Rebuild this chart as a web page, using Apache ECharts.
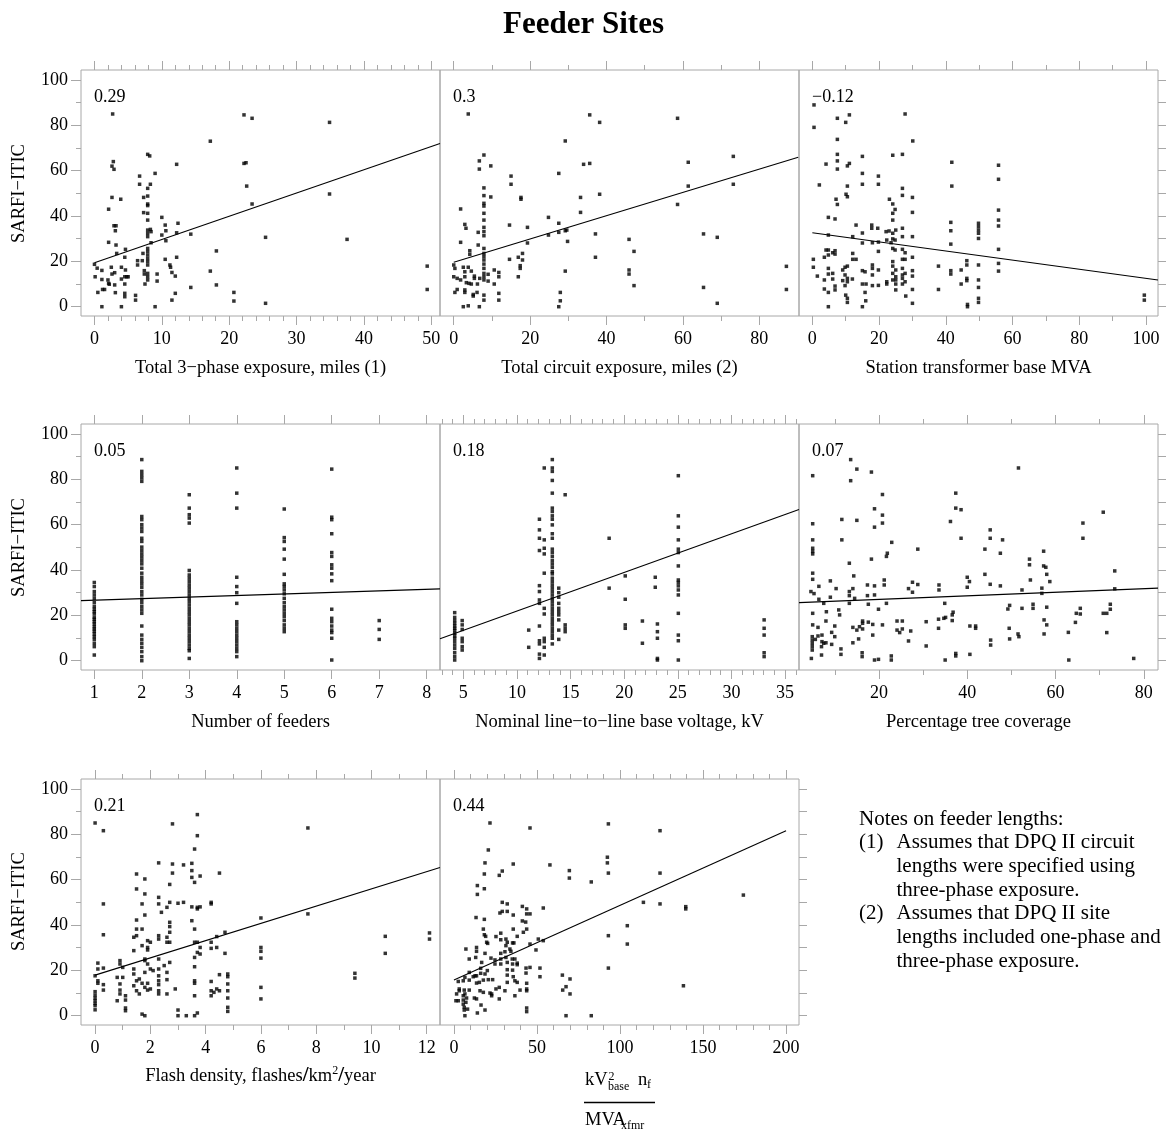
<!DOCTYPE html>
<html><head><meta charset="utf-8">
<script src="https://cdn.jsdelivr.net/npm/echarts@6/dist/echarts.min.js"></script>
<style>html,body{margin:0;padding:0;background:#fff}#c{width:1167px;height:1131px}</style>
</head><body><div id="c"></div>
<script>
const FONT = '"Liberation Serif","Times New Roman",serif';
const GRAY = '#a8a8a8';
const chartTitle = 'Feeder Sites';
const yName = 'SARFI−ITIC';
const corrLabels = ['0.29', '0.3', '−0.12', '0.05', '0.18', '0.07', '0.21', '0.44'];
const xNames = ['Total 3−phase exposure, miles (1)', 'Total circuit exposure, miles (2)', 'Station transformer base MVA',
  'Number of feeders', 'Nominal line−to−line base voltage, kV', 'Percentage tree coverage'];
const yTicks = [0, 20, 40, 60, 80, 100];
const yMinor = [10, 30, 50, 70, 90];
const yRight = [0, 10, 20, 30, 40, 50, 60, 70, 80, 90, 100];
const xMajor = [[0,10,20,30,40,50],[0,20,40,60,80],[0,20,40,60,80,100],[1,2,3,4,5,6,7,8],[5,10,15,20,25,30,35],[20,40,60,80],[0,2,4,6,8,10,12],[0,50,100,150,200]];
const xMinor = [[2,4,6,8,12,14,16,18,22,24,26,28,32,34,36,38,42,44,46,48],[10,30,50,70],[10,30,50,70,90],[],
  [3,4,6,7,8,9,11,12,13,14,16,17,18,19,21,22,23,24,26,27,28,29,31,32,33,34,36],[10,30,50,70],[1,3,5,7,9,11],
  [10,20,30,40,60,70,80,90,110,120,130,140,160,170,180,190]];
const xRanges = [[-2,51.3],[-3.6,90.4],[-4,103.6],[0.72,8.28],[2.83,36.3],[1.9,83.2],[-0.51,12.48],[-8.4,207.8]];
const YMIN = -4.1, YMAX = 104.4;

// regression lines (endpoints)
const fits = [[[0,19.4],[51.3,72]],[[0,19.6],[90.2,65.9]],[[0,32.6],[103.6,11.8]],[[0.72,26.5],[8.28,31.7]],
  [[2.83,9.7],[36.3,66.7]],[[1.9,25.6],[83.2,32.0]],[[0,17.9],[12.48,65.4]],[[0,15.8],[200,81.6]]];

const p1 = [[0,18.7],[0.4,17],[0.1,13.2],[0.5,6.3],[1.1,0],[1.1,16],[1.1,12],[1.2,7.6],[1.5,7.6],[2,11.8],[2.1,10.3],[2.1,43],[2.1,28.4],[2.2,9.9],[2.5,17.4],[2.6,14.4],[2.7,85],[2.6,48.2],[2.6,62],[2.9,60.6],[2.8,64],[2.9,35.7],[3,9.6],[3,15],[3.1,6.2],[3.1,33.5],[3.2,27.2],[3.3,23.5],[3.2,35.7],[3.9,47.4],[4,0],[4,17.4],[4,12.2],[4.5,21.8],[4.6,25.3],[4.6,16.2],[4.5,13.2],[4.5,5.9],[4.5,4.4],[4.8,13.2],[5,13.2],[4.5,10],[6.1,5],[6.1,2.9],[6.4,20.3],[6.4,18.4],[6.7,57.6],[6.7,54],[7.1,20.3],[7.2,23.5],[7.3,41.5],[7.3,48.2],[7.4,15.9],[7.4,14.4],[7.5,10],[7.9,67.2],[8.2,66.5],[7.9,52.2],[7.9,48.8],[7.9,45.3],[7.9,44.6],[7.9,41.2],[7.9,38.2],[7.9,33.8],[7.9,32.4],[7.9,30.9],[7.9,25.7],[7.9,24.3],[7.9,22.8],[7.9,21.3],[7.9,19.9],[7.9,18.4],[7.9,14.7],[7.9,13.2],[7.9,11.8],[8.3,54],[8.3,34.1],[8.4,33.1],[8.4,28.2],[9,58.8],[9,0],[9.3,14.4],[9.3,11.3],[10,39.4],[10,31.6],[10.5,36],[10.5,20.9],[10.6,33.5],[10.6,29.1],[11.2,18.4],[11.3,17.4],[11.5,15.1],[11.5,2.9],[12,13.5],[12,5.9],[12.2,62.8],[12.2,32.6],[12.2,21.8],[12.4,36.8],[14.3,32],[14.3,8.5],[17.2,73],[17.2,15.7],[18.1,24.6],[18.1,9.6],[20.7,6.3],[20.7,2.5],[22.2,84.6],[22.2,63.2],[22.5,63.5],[22.6,53.2],[23.4,83.1],[23.4,45.3],[25.4,30.6],[25.4,1.5],[34.9,81.3],[34.9,49.7],[37.5,29.7],[49.4,17.9],[49.4,7.6]];

const p2 = [[3.8,85],[35.6,84.6],[38.2,81.3],[58.6,83.1],[29.2,73.1],[73.2,66.3],[7.9,66.9],[6.7,64.3],[6.7,60.7],[9.7,62.1],[34,62.8],[35.6,63.2],[61.4,63.7],[27.5,58.8],[15,57.6],[15,54],[61.4,53.2],[73.2,54],[7.9,52.4],[38.2,49.6],[7.9,49],[9.7,48.4],[33.2,48.2],[7.9,45.6],[7.9,44.4],[58.6,45.1],[1.8,43.1],[17.6,48.2],[17.6,47.4],[7.9,41.2],[33.2,41.6],[7.9,38.2],[24.8,39.4],[2.9,36.3],[3.2,34.6],[14.6,36],[19.3,35],[27.5,36.8],[6.4,32.8],[7.9,35],[7.9,33.1],[7.9,31.3],[24.8,31.6],[27.5,32.8],[29.2,33.5],[29.6,33.8],[37.1,32.1],[65.4,32.1],[69,30.6],[1.8,28.4],[6.4,27.2],[7.9,25.7],[29.8,28.8],[19.3,28.1],[45.9,29.7],[4.2,24.7],[4.2,23.1],[7.9,23.5],[7.9,22.1],[47.2,24.4],[37.1,21.8],[14.6,20.9],[16.9,21.8],[18,23.5],[18,20.6],[7.9,20.6],[7.9,18.8],[7.9,16.9],[0,18.4],[0.3,16.9],[17.4,18.1],[17.4,16.9],[2.5,17.4],[3.8,17.4],[2.9,15.4],[4.6,15.7],[10.6,16.2],[11.8,15.1],[29.2,15.7],[45.9,16.2],[45.9,14.4],[87.1,17.8],[0,13.2],[0.9,12.5],[1.8,11.8],[2.9,13.2],[3.3,10.6],[4,10.3],[4.6,10],[5.4,13.5],[5.4,12.5],[6.2,10],[6.8,12.5],[7.9,14.7],[7.9,13.2],[7.9,11.8],[9,14.3],[9,11.3],[10.6,10],[11.8,13.2],[16.9,13.2],[47.2,9.3],[65.4,8.5],[87.1,7.6],[0.3,6.3],[0.9,7.6],[2.9,7.4],[2.9,6.3],[5.1,5.4],[5.1,4.7],[6.1,6.3],[7.9,5.1],[7.9,2.9],[11.8,5.9],[11.8,2.9],[27.9,6.3],[27.9,2.6],[27.5,0],[2.5,0],[3.8,0.4],[6.7,0],[69,1.5]];

const p3 = [[0.5,89],[0.5,79.1],[7.5,83.1],[10,81.3],[11.1,84.6],[27.8,85],[7.5,73.8],[30.1,73.1],[7.5,67.2],[7.5,64.3],[7.5,60.7],[4.1,62.9],[10.5,62.1],[11.1,63.2],[15,66.3],[24.1,66.8],[27,67.2],[41.8,63.7],[55.8,62.4],[2.1,53.7],[15,58.8],[15,54],[19.8,57.6],[19.8,54],[10.5,53.2],[41.8,53.2],[55.8,56.2],[10.1,49.6],[10.5,48.5],[7.1,47.4],[7.5,45.1],[23.1,47.4],[24.1,45.3],[24.8,42.9],[27,52.2],[27,49.1],[30,48.2],[30,41.6],[55.8,42.6],[4.8,39.4],[6.8,38.7],[24.1,41.2],[24.1,38.2],[55.8,38.2],[55.8,35.6],[41.5,37.2],[41.5,33.5],[41.5,27.6],[49.8,36.8],[49.8,35.3],[49.8,33.8],[49.8,32.4],[49.8,30.1],[13.1,36],[15,32.5],[15,28.1],[17.8,36],[17.8,34.6],[18,28.2],[19.6,34.6],[19.8,28.5],[19.8,24.4],[22.1,33.1],[23,33.4],[24.1,32.4],[22.3,29.4],[23.6,28.2],[24.1,29.9],[24.8,29.4],[25,33.8],[27,34.6],[27,30.9],[30,30.9],[4.8,31.6],[12.1,30.9],[4.8,25],[4.8,22.8],[4.1,25],[6.1,23.8],[6.8,24.7],[6.8,23.2],[3.6,21.8],[0.3,20.9],[0.3,17.4],[12.1,23.5],[12.1,20.9],[13.1,20.9],[24.1,25.7],[24.8,25],[27,25.3],[27.8,23.8],[27.8,20.9],[27,20.9],[30,21.8],[55.8,25.3],[55.8,19.1],[55.8,15.7],[46.3,20.3],[46.3,18.4],[49.8,18.4],[37.8,17.9],[41.5,15.9],[41.5,14.4],[44.6,16.2],[4.8,16.9],[6.1,14.7],[9.1,16.2],[9.8,17.4],[10.5,17.9],[9.1,11.5],[9.8,14],[10.5,12.5],[10.5,11],[12,12.2],[15,15.9],[15.8,15.4],[18,18.4],[18,16.9],[18,14],[19.8,16.2],[24.1,19.9],[24.1,17.9],[24.1,14.7],[24.1,11.8],[25,16.2],[25,13.2],[25,11.8],[27,16.9],[27,14],[27,12.5],[27.8,14.7],[30,15.9],[30,13.5],[1.5,13.5],[3.6,11.8],[4.8,14.4],[6.1,12.2],[6.8,9.1],[6.8,7.4],[3.6,7.8],[4.8,6.3],[9.8,9.3],[15,10],[16.1,10],[15.8,6.3],[18,9.3],[19.8,9.4],[22.3,11],[22.3,10],[25,10],[25,7.4],[27,10],[27.8,11],[30,7.6],[37.8,7.6],[44.6,10],[46.3,12.5],[46.3,11.5],[49.8,11.8],[49.8,8.5],[10,5.1],[10.5,3.7],[10.5,1.9],[16,2.6],[28,4.7],[30,1.5],[49.8,3.7],[49.8,1.9],[46.5,1],[46.5,0],[4.8,0],[15,0],[99.5,5.1],[99.5,2.9]];

// number of feeders: [x, [y values]]
const p4Groups = [[1,[34.5,32.7,30.5,29,27.5,25.6,23.9,22.7,21.6,20.6,19.1,18.3,17.2,16.2,15,14,13,11.8,10.6,9.4,7.7,6.2,2.5]],
  [2,[88.7,83.5,82,80.6,79.1,63.6,62.2,60,58.5,57,54,52.6,50.1,48.6,47.1,45.7,44.2,42.7,40.8,38.6,36.8,35.3,33.9,32.4,30.5,29,27.1,25.6,23.9,22.4,20.9,15.3,11.3,9.4,7.7,5.9,4,1.8,0]],
  [3,[73.2,67.3,64.4,62.9,60.7,39.8,37.8,36.4,34.9,33.4,32,30.5,29,27.5,26.1,24.6,23.1,21.6,20.2,18.7,17.2,15.8,14.3,12.8,11.3,9.9,8.4,6.9,5.4,4.4,1]],
  [4,[85,73.9,67.3,36.8,32.7,30,25.3,17.2,15.8,14.3,12.8,11.3,9.9,8.4,6.9,5.4,4,1.8]],
  [5,[66.9,54.3,52.6,49.2,44.8,38.1,33.9,32.7,31.2,29.5,27.5,25.6,23.9,22.4,20.9,19.4,17.7,15.8,14.3,12.8]],
  [6,[84.5,63.3,62.2,56,47.7,46,42.3,40.8,38.3,35.3,22.7,18.7,17.2,15.3,13.5,12.4,9.9,0.3]],
  [7,[17.7,13.8,9.4]]];

// base voltage kV: [x, [y values]]
const p5Groups = [[4.2,[21.2,19.1,17.7,16.5,15.3,14.3,13.3,12.1,10.9,9.9,8.4,6.9,5.4,3.5,1.8,0.3]],
  [4.9,[17.7,15.8,13.8,9.9,8.4,6.2,4.7]],
  [11.1,[13.5,5.9]],
  [12.1,[62.4,57.7,54,48.6,33.1,30.5,26.8,25.3,15.3,8.8,7.4,2.9,1]],
  [12.55,[85,53.3,49.6,47.1,38.6,23.1,20.6,9.9,8.4,5.9,2.5]],
  [13.3,[88.7,85,83.5,79.5,73.9,67.3,65.8,63.9,62.4,59.9,56,54,49.2,47.7,46,44.2,42.7,41.2,39.3,38.3,36.4,34.9,33.4,32,30.5,29,27.5,26.1,24.6,23.1,21.6,20.2,18.7,17.2,15.8,14.3,12.8,11.3,9.9,7.4]],
  [13.9,[32,30,28,25.3,23.1,21.6,20.2,18,13.5,9.4]],
  [14.5,[73.2,15.8,14.3,12.8]],
  [18.6,[54,32]],
  [20.1,[37.4,27.1,15.8,14.3]],
  [21.7,[17.5,7.7]],
  [22.9,[36.8,32.4]],
  [23.1,[16.2,12.8,9.9,1,0.3]],
  [25.05,[81.6,63.9,58.9,53.3,49.2,47.7,41.8,35.6,34.5,33,31.2,29,20.9,11.3,8.8,0.3]],
  [33.05,[18,14.3,11.3,3.5,1.8]]];

const p6 = [[5,81.6],[13.6,88.7],[13.6,79.4],[15,84.5],[18.3,83.2],[51.6,85],[20.8,73.3],[37.4,73.9],[37.4,67.3],[38.6,66.6],[19,67],[20.8,64.2],[20.8,60.7],[19,58.9],[11.6,62.3],[15,61.9],[36.2,61.4],[70.8,65.5],[66.2,60.7],[66.2,54],[5,60.4],[5,53.3],[5,49.6],[5,48.2],[5,47.1],[11.6,53.3],[18.3,44.8],[21.9,47.4],[21.7,46],[22.9,52.2],[28.8,49.2],[38.6,54],[45.2,57.7],[45.2,54],[48,53.3],[44,49.2],[47.5,47.4],[57.3,48.3],[54.1,44.8],[54.1,42.3],[57.3,41.8],[57.8,41.2],[13.3,43],[5,38.6],[5,35.9],[14.3,37.4],[44,38.1],[40,36.8],[40.5,34.9],[58,38.1],[58.7,34.9],[54.3,35.6],[73.4,39.6],[45.2,33.7],[47.5,33],[40,32.4],[33.6,33.4],[33.6,31.2],[27.6,34.6],[28.8,33.6],[26.7,31.8],[27.6,30.2],[21.2,35.6],[21.2,33.4],[17.4,33.4],[19,33],[9,35.2],[10.3,31.8],[6.4,32.8],[4.6,30.5],[5.3,29.6],[13.3,30.5],[13.3,28.7],[14.1,31.8],[14.5,27.5],[17.4,28.7],[17.6,24.9],[19,29],[21.7,25.3],[13.3,25.3],[6.4,27.1],[7.5,25.3],[9,28],[52.4,31.2],[56.9,32],[56.9,29.7],[73.4,31.7],[34.9,25.3],[49.6,24.4],[49.2,22.8],[52.4,23.1],[54.9,24.9],[54.9,23.1],[58,23.6],[72.4,24.9],[72.4,22.7],[70.8,20.9],[71.6,20.9],[65.6,23.1],[64.7,20.9],[65.6,20.6],[5,20.9],[8.1,21.6],[10.9,22.4],[11.1,20.2],[19.9,22.7],[36.8,21.4],[36.6,20.2],[35.1,19.1],[34.7,18.7],[33.5,18.3],[36.6,17.7],[5,15.8],[6.2,14.7],[8,17.5],[10,15.3],[14.1,14.7],[15,13.5],[15.6,15],[16.3,17.5],[16.3,16.5],[16.3,14],[17.6,17],[18.6,16],[20.8,15.8],[24.1,17.5],[25.3,17.5],[24.1,13.5],[24.7,12.4],[25.3,14],[27.2,13.1],[30.7,17.2],[33.5,14.3],[40.6,15.3],[41.9,15.3],[41.9,14.3],[49.5,14.3],[57.4,18],[58,15.8],[64.5,16.9],[57.4,11.8],[62.9,12.5],[71.6,12.4],[51.5,11.8],[51.7,10.6],[4.9,10.6],[4.9,9.1],[4.9,7.7],[4.9,6.2],[4.9,4.7],[5.6,9.4],[6.2,10.9],[7.1,11.3],[7.1,8.4],[7.5,7.7],[8,7.9],[7,6.2],[7,2.5],[9.3,12.5],[10,10.6],[9.3,7.2],[11.4,5.2],[11.4,2.8],[14.1,7.9],[15.4,9.6],[16.2,3.5],[16.2,1.8],[18.6,11.3],[19,0.3],[19.9,0.6],[22.8,2.1],[22.8,0.3],[26.7,8.7],[30.7,6.5],[35,0.3],[37.4,3.2],[37.4,2.1],[40.6,2.8],[45.3,9.1],[45.3,6.9],[49.6,9.6],[63,0.3],[77.7,1],[4.7,1]];

const p7 = [[0,85],[0.3,81.6],[0.3,49.3],[0.3,35.7],[0.1,23.2],[0.1,20.6],[0.3,21],[0,17.6],[0.1,15.4],[0.1,14.3],[0.3,13.7],[0.3,11.3],[0,10.6],[0,9.1],[0,7.8],[0,6.6],[0,5.4],[0,4.4],[0,2.6],[0.8,16.9],[0.8,6.6],[0.9,24.3],[0.9,22.8],[0.9,14],[0.9,11.3],[0.9,9.6],[1,21.3],[1,16.9],[1.1,8.8],[1.1,6.9],[1.1,3.4],[1.1,2.2],[1.4,28.7],[1.4,34.6],[1.4,20.6],[1.4,18.4],[1.4,13.2],[1.5,62.5],[1.5,55.9],[1.5,42.2],[1.5,38.2],[1.5,35.3],[1.5,15.4],[1.5,11],[1.6,16.2],[1.6,9.6],[1.7,38.2],[1.7,30.9],[1.7,49.3],[1.7,14.3],[1.7,0.7],[1.8,0],[1.8,60.3],[1.8,44.4],[1.8,53.7],[1.8,25],[1.8,24.3],[1.8,19.1],[1.8,12.5],[1.9,22.8],[1.9,33.1],[1.9,30.1],[1.9,29],[1.9,11.3],[1.9,14.3],[2,32.4],[2,20.6],[2,11.8],[2.1,19.9],[2.3,67.4],[2.3,52.2],[2.3,49.3],[2.4,45.6],[2.3,35.3],[2.3,33.8],[2.3,25],[2.3,20.6],[2.3,17.6],[2.3,15.4],[2.3,13.7],[2.3,11],[2.3,9.6],[2.5,22.1],[2.6,47.8],[2.6,34.6],[2.6,32.4],[2.6,15.9],[2.6,19.1],[2.6,9.6],[2.7,57.9],[2.7,50],[2.7,41.2],[2.7,39.3],[2.7,36.8],[2.7,32.4],[2.7,23.5],[2.8,84.6],[2.8,66.9],[2.8,62.9],[2.9,11.8],[3,49.6],[3,2.5],[3,0],[3.2,66.5],[3.2,50],[3.3,0],[3.5,41.9],[3.5,48],[3.5,67.2],[3.5,64],[3.5,61],[3.6,73.5],[3.6,58.8],[3.6,38.2],[3.6,32.4],[3.6,25.7],[3.6,21.6],[3.6,15.4],[3.6,14.3],[3.6,8.8],[3.6,0],[3.7,88.7],[3.7,79.4],[3.7,47.1],[3.7,47.8],[3.7,32.4],[3.8,30.1],[3.7,27.9],[3.8,27.2],[3.7,1.2],[3.8,61.6],[3.8,48],[4.2,50],[4.2,49.3],[4.2,32.4],[4.2,29.7],[4.2,15.1],[4.2,11],[4.2,8.8],[4.3,10.3],[4.4,11.8],[4.5,11],[4.4,34.9],[4.4,30.1],[4.5,62.9],[4.5,18.1],[4.7,36.8],[4.7,27.5],[4.8,18.4],[4.8,17.2],[4.8,14],[4.8,11],[4.8,7.8],[4.8,3.7],[4.8,1.9],[6,43.1],[6,30.1],[6,28.4],[6,25.4],[6,12.5],[6,7.4],[7.7,82.8],[7.7,44.9],[9.4,18.7],[9.4,16.6],[10.5,35],[10.5,27.5],[12.1,36.5],[12.1,33.8]];

const p8 = [[21.7,85],[45.8,82.8],[93,84.6],[124.1,81.6],[20.7,73.1],[92.4,69.9],[18.7,67.4],[35.7,66.9],[57.8,66.5],[69.5,64],[69.5,60.7],[82.7,59],[92.4,67.4],[93,62.9],[124.1,62.9],[18.3,62.5],[27.3,61.9],[29.1,63.8],[14.1,57.4],[14.1,53.5],[18.3,56],[29.1,50],[32.1,49.3],[27.7,45.3],[29.1,46],[32.1,46],[114.1,50],[139.6,48.1],[139.6,47.1],[174.3,53.2],[124.1,49.3],[35.7,44.4],[41.2,48.2],[43.8,47.1],[43.8,44.9],[45.8,44.9],[53.8,47.5],[13.3,43.3],[18.3,42.5],[41.2,41.8],[43.2,41.3],[35.7,38.2],[43.8,38.2],[17.7,38.2],[18.3,35.7],[19.1,35],[41.8,36.8],[38.1,35],[25.3,34.9],[28.2,36.4],[28.2,33.5],[31.3,33.8],[32.1,32.4],[31.3,30.9],[30.7,28.2],[35.3,32.1],[36.1,32.1],[33.7,29.4],[45.8,31.6],[50.8,33.8],[53.8,33.1],[49.4,29],[19.7,32.4],[20.3,31.9],[7.2,29.4],[13.6,30.1],[13.6,28.4],[18.7,27.5],[9.2,25],[13.1,25.7],[22.3,25.4],[24.7,24.6],[24.7,22.8],[28.2,27.5],[28.2,25],[28.2,22.8],[31.3,25.7],[32.1,23.5],[34.3,28.4],[35.1,25],[36.7,25],[35.3,22.8],[38.1,23.2],[38.1,22.5],[16.7,23.5],[16.1,20.9],[20.1,19.9],[18.7,18.4],[16.1,18.7],[9.2,19.1],[11.6,17.2],[12.7,17.6],[13.6,17.6],[32.1,20.3],[32.1,17.9],[35.3,20.1],[43.4,21],[45.8,21.3],[43.4,18.8],[51.8,21],[51.8,17.2],[93,21],[35.7,17.2],[20.7,15.9],[23.3,15.9],[17.7,15.7],[13.6,14.4],[15.3,14.7],[9.2,15.7],[6.6,16.9],[2.6,15.1],[5.6,15.4],[36.7,15.4],[38.1,14.7],[32.1,14.7],[43.8,14.3],[43.8,11.8],[43.8,11],[39.8,11.3],[27.3,12.5],[25.3,11.8],[30.7,11],[15.7,11],[17.7,10.3],[21.7,10],[22.7,9.6],[9.2,11.3],[6.2,11.3],[3.2,11.8],[3.2,11],[1.6,9.6],[1.2,6.6],[2.6,6.6],[5.6,8.8],[6.6,9.6],[5.6,6.9],[7.6,7.8],[7.2,5.9],[5.6,5.1],[6.2,3.7],[6.2,2.5],[6.6,0],[8.2,2.9],[12.3,7.8],[13.6,7.4],[16.3,4.7],[14.1,1.2],[18.7,2.5],[22.7,8.8],[27.3,7.4],[36.7,8.8],[43.8,3.4],[43.8,1.8],[65.3,17.9],[69.9,16.2],[65.5,11.3],[67.5,12.8],[69.9,9.6],[67.5,0],[82.7,0],[93,35.3],[104.4,39.7],[104.4,31.6],[138.2,13.2]];

const noteLines = [['', 'Notes on feeder lengths:'], ['(1)', 'Assumes that DPQ II circuit'], ['', 'lengths were specified using'],
  ['', 'three-phase exposure.'], ['(2)', 'Assumes that DPQ II site'], ['', 'lengths included one-phase and'], ['', 'three-phase exposure.']];

function flatten(groups) { const out = []; groups.forEach(g => g[1].forEach(y => out.push([g[0], y]))); return out; }
const panelData = [p1, p2, p3, flatten(p4Groups), flatten(p5Groups), p6, p7, p8];

const colLeft = [81, 440, 799], rowTop = [70, 424, 779], W = 359, H = 246;
const grids = [], xAxes = [], yAxes = [], series = [], graphics = [];
const tickLS = { color: GRAY, width: 1 };
const labelStyle = { fontFamily: FONT, fontSize: 18, color: '#000' };
const noLine = { show: false, onZero: false };

for (let i = 0; i < 8; i++) {
  const r = Math.floor(i / 3), c = i % 3;
  const L = colLeft[c], T = rowTop[r];
  grids.push({ left: L, top: T, width: W, height: H, show: true, borderColor: GRAY, borderWidth: 1, backgroundColor: 'rgba(0,0,0,0)' });
  const [mn, mx] = xRanges[i];
  const xb = { type: 'value', gridIndex: i, min: mn, max: mx, splitLine: { show: false }, axisLine: noLine };
  const hasMinor = xMinor[i].length > 0;
  xAxes.push({ ...xb, position: 'bottom', axisTick: { show: true, inside: false, length: 9, customValues: xMajor[i], lineStyle: tickLS },
    axisLabel: { show: true, customValues: xMajor[i], margin: 14, ...labelStyle } });
  xAxes.push({ ...xb, position: 'bottom', axisTick: { show: hasMinor, inside: false, length: 5, customValues: hasMinor ? xMinor[i] : [0], lineStyle: tickLS }, axisLabel: { show: false } });
  xAxes.push({ ...xb, position: 'top', axisTick: { show: true, inside: false, length: 9, customValues: xMajor[i], lineStyle: tickLS }, axisLabel: { show: false } });
  xAxes.push({ ...xb, position: 'top', axisTick: { show: hasMinor, inside: false, length: 5, customValues: hasMinor ? xMinor[i] : [0], lineStyle: tickLS }, axisLabel: { show: false } });
  const yb = { type: 'value', gridIndex: i, min: YMIN, max: YMAX, splitLine: { show: false }, axisLine: noLine };
  const left = c === 0, right = (c === 2 || i === 7);
  yAxes.push({ ...yb, position: 'left', show: left, axisTick: { show: left, inside: false, length: 10, customValues: yTicks, lineStyle: tickLS },
    axisLabel: { show: left, customValues: yTicks, margin: 13, ...labelStyle } });
  yAxes.push({ ...yb, position: 'left', show: left, axisTick: { show: left, inside: false, length: 5, customValues: yMinor, lineStyle: tickLS }, axisLabel: { show: false } });
  yAxes.push({ ...yb, position: 'right', show: right, axisTick: { show: right, inside: false, length: 8, customValues: yRight, lineStyle: tickLS }, axisLabel: { show: false } });

  series.push({ type: 'scatter', xAxisIndex: 4 * i, yAxisIndex: 3 * i, data: panelData[i], symbol: 'rect', symbolSize: 3.5,
    itemStyle: { color: '#000' }, silent: true, z: 3 });
  series.push({ type: 'line', xAxisIndex: 4 * i, yAxisIndex: 3 * i, data: fits[i], symbol: 'none', lineStyle: { color: '#000', width: 1.1 },
    silent: true, z: 4 });

  graphics.push({ type: 'text', x: L + 13, y: T + 27.5, silent: true,
    style: { text: corrLabels[i], fontFamily: FONT, fontSize: 18, fill: '#000', align: 'left', verticalAlign: 'middle', textAlign: 'left', textVerticalAlign: 'middle' } });
  const cx = L + W / 2, ny = T + H + 52.5;
  if (i < 6) {
    graphics.push({ type: 'text', x: cx, y: ny, silent: true,
      style: { text: xNames[i], fontFamily: FONT, fontSize: 18.5, fill: '#000', align: 'center', verticalAlign: 'middle', textAlign: 'center', textVerticalAlign: 'middle' } });
  }
}

[193.5, 547.5, 901.7].forEach(cy => graphics.push({ type: 'text', x: 19, y: cy, rotation: Math.PI / 2, silent: true,
  style: { text: yName, fontFamily: FONT, fontSize: 18.5, fill: '#000', align: 'center', verticalAlign: 'middle', textAlign: 'center', textVerticalAlign: 'middle' } }));

graphics.push({ type: 'text', x: 260.5, y: 1076, silent: true,
  style: { text: 'Flash density, flashes{sl|/}km{sup|2}{sl|/}year', fontFamily: FONT, fontSize: 18.5, lineHeight: 22, fill: '#000',
    align: 'center', verticalAlign: 'middle', textAlign: 'center', textVerticalAlign: 'middle',
    rich: { sl: { fontFamily: FONT, fontSize: 21, fontWeight: 'bold', lineHeight: 22, fill: '#000' },
            sup: { fontFamily: FONT, fontSize: 12, lineHeight: 12, verticalAlign: 'top', fill: '#000' } } } });

const fracText = (t, x, y, fs) => ({ type: 'text', x: x, y: y, silent: true,
  style: { text: t, fontFamily: FONT, fontSize: fs, fill: '#000', align: 'left', verticalAlign: 'middle', textAlign: 'left', textVerticalAlign: 'middle' } });
graphics.push(fracText('kV', 585, 1080, 18.5));
graphics.push(fracText('2', 608.5, 1077, 12));
graphics.push(fracText('base', 608, 1086.5, 12));
graphics.push(fracText('n', 638, 1080, 18.5));
graphics.push(fracText('f', 647, 1084.5, 12));
graphics.push({ type: 'line', silent: true, shape: { x1: 584, y1: 1102.5, x2: 655, y2: 1102.5 }, style: { stroke: '#000', lineWidth: 1.5 } });
graphics.push(fracText('MVA', 585, 1120.5, 18.5));
graphics.push(fracText('xfmr', 621, 1125.5, 12));

noteLines.forEach((ln, k) => {
  const y = 819 + k * 23.7;
  if (ln[0]) graphics.push({ type: 'text', x: 859, y: y, silent: true,
    style: { text: ln[0], fontFamily: FONT, fontSize: 21, fill: '#000', align: 'left', verticalAlign: 'middle', textAlign: 'left', textVerticalAlign: 'middle' } });
  graphics.push({ type: 'text', x: k === 0 ? 859 : 896.5, y: y, silent: true,
    style: { text: ln[1], fontFamily: FONT, fontSize: 21, fill: '#000', align: 'left', verticalAlign: 'middle', textAlign: 'left', textVerticalAlign: 'middle' } });
});

const chart = echarts.init(document.getElementById('c'), null, { renderer: 'canvas' });
chart.setOption({
  animation: false,
  backgroundColor: '#fff',
  title: { text: chartTitle, left: 'center', top: 4, textStyle: { fontFamily: FONT, fontSize: 31, fontWeight: 'bold', color: '#000' } },
  grid: grids, xAxis: xAxes, yAxis: yAxes, series: series,
  graphic: graphics
});
</script></body></html>
